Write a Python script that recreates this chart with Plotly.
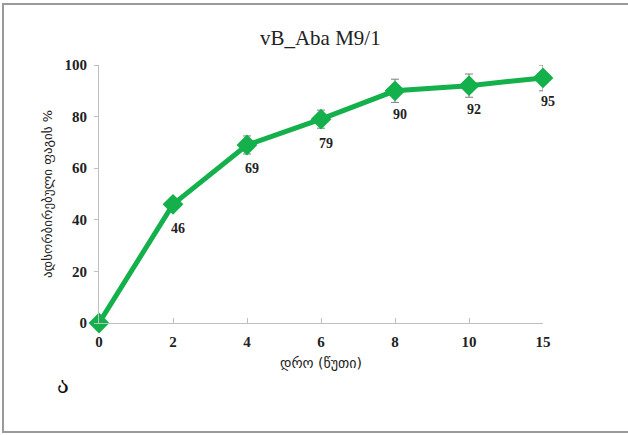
import plotly.graph_objects as go

time_labels = ["0", "2", "4", "6", "8", "10", "15"]
adsorbed = [0, 46, 69, 79, 90, 92, 95]
err = [0, 0, 3.5, 3.5, 4.5, 4.5, 5]
yticks = [0, 20, 40, 60, 80, 100]

xpos = list(range(len(time_labels)))
green = "#14B04C"
serif = "Liberation Serif, DejaVu Serif, serif"

fig = go.Figure()
fig.add_trace(go.Scatter(
    x=xpos, y=adsorbed, mode="lines+markers",
    line=dict(color=green, width=5),
    marker=dict(symbol="diamond", size=16, color=green),
    error_y=dict(type="data", array=err, visible=True, color="#7f7f7f", thickness=1, width=4),
    cliponaxis=False, showlegend=False,
))
for xv, yv in zip(xpos, adsorbed):
    if yv == 0:
        continue
    fig.add_annotation(x=xv, y=yv, text=str(yv), showarrow=False, xshift=5, yshift=-24,
                       font=dict(family=serif, size=14, color="#222", weight="bold"))

fig.add_annotation(xref="paper", yref="paper", x=-52/444, y=0.5, xanchor="center", yanchor="middle",
                   text="ადსორბირებული ფაგის %",
                   textangle=-90, showarrow=False, font=dict(family="DejaVu Sans, Noto Sans", size=13, color="#222"))
fig.add_annotation(xref="paper", yref="paper", x=0.5, y=-40/258, xanchor="center", yanchor="middle",
                   text="დრო (წუთი)",
                   showarrow=False, font=dict(family="DejaVu Sans, Noto Sans", size=14, color="#222"))
fig.add_annotation(xref="paper", yref="paper", x=-36/444, y=-62/258, text="ა", xanchor="center", yanchor="middle",
                   showarrow=False, font=dict(family="DejaVu Serif, DejaVu Sans", size=22, color="#111"))

fig.add_shape(type="rect", xref="paper", yref="paper", x0=-96/444, x1=1.3, y0=-109/258, y1=1 + 61/258,
              line=dict(color="#9a9a9a", width=2))

fig.update_layout(
    width=628, height=435,
    margin=dict(l=99, r=85, t=65, b=112),
    paper_bgcolor="white", plot_bgcolor="white",
    title=dict(text="vB_Aba M9/1", x=0.51, xanchor="center", y=0.913, yanchor="middle",
               font=dict(family=serif, size=21, color="#222")),
)
fig.update_xaxes(range=[0, 6], tickmode="array", tickvals=xpos, ticktext=time_labels,
                 showline=True, linecolor="#bfbfbf", linewidth=1, showgrid=False, zeroline=False,
                 ticks="inside", ticklen=5, tickcolor="#bfbfbf",
                 tickfont=dict(family=serif, size=15, color="#222", weight="bold"), ticklabelstandoff=5)
fig.update_yaxes(range=[0, 100], tickmode="array", tickvals=yticks,
                 showline=True, linecolor="#bfbfbf", linewidth=1, showgrid=False, zeroline=False,
                 ticks="outside", ticklen=4, tickcolor="#bfbfbf",
                 tickfont=dict(family=serif, size=15, color="#222", weight="bold"), ticklabelstandoff=4)

fig.write_html("out.html")
